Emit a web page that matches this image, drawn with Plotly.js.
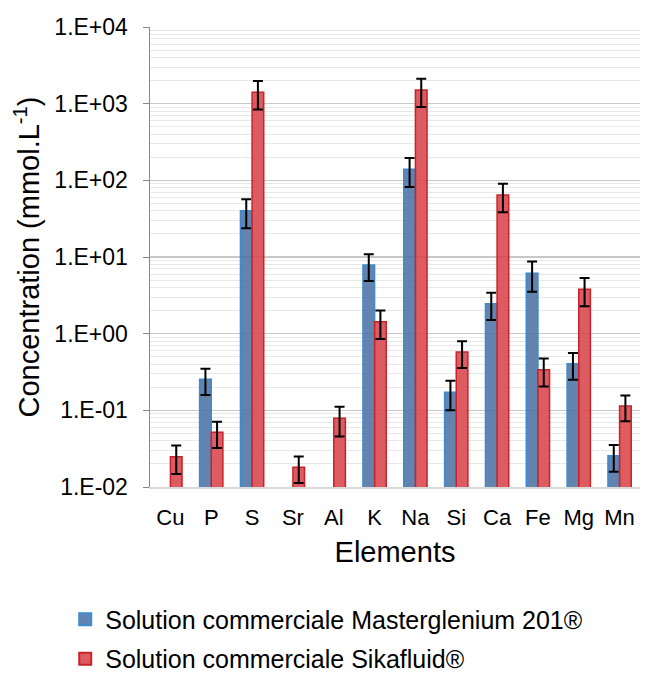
<!DOCTYPE html>
<html><head><meta charset="utf-8">
<script src="https://cdn.plot.ly/plotly-3.0.1.min.js"></script>
<style>html,body{margin:0;padding:0;background:#fff;}#chart{width:646px;height:673px;}</style>
</head><body><div id="chart"></div>
<script>
const elements = ["Cu","P","S","Sr","Al","K","Na","Si","Ca","Fe","Mg","Mn"];
const masterValues = [null,0.254,40.2,null,null,7.87,139,0.172,2.46,6.13,0.406,0.0256];
const masterErrors = [null,0.095,16.5,null,null,3.0,57,0.072,0.95,2.6,0.155,0.0098];
const sikaValues = [0.0248,0.0517,1407,0.0181,0.0787,1.43,1507,0.577,64.4,0.339,3.79,0.114];
const sikaErrors = [0.0100,0.0195,570,0.0068,0.033,0.58,605,0.22,26,0.135,1.52,0.042];
const yTickVals = [0.01,0.1,1,10,100,1000,10000];
const yTickText = ["1.E-02","1.E-01","1.E+00","1.E+01","1.E+02","1.E+03","1.E+04"];
const seriesNames = ["Solution commerciale Masterglenium 201®","Solution commerciale Sikafluid®"];

const errStyle = {type:'data', visible:true, color:'#000', thickness:2, width:5};
const traces = [
  {type:'bar', name:seriesNames[0], legendgroup:'a', x:elements, y:masterValues,
   marker:{color:'rgba(70,110,160,0.85)', line:{color:'#3C8AD0', width:1.5}},
   error_y:Object.assign({array:masterErrors}, errStyle)},
  {type:'bar', name:seriesNames[1], legendgroup:'b', x:elements, y:sikaValues,
   marker:{color:'rgba(215,70,75,0.88)', line:{color:'#C8232C', width:1.5}},
   error_y:Object.assign({array:sikaErrors}, errStyle)}
];
const layout = {
  width:646, height:673,
  margin:{l:150, r:6, t:27, b:186, autoexpand:false},
  paper_bgcolor:'#fff', plot_bgcolor:'#fff',
  font:{family:'Liberation Sans, Arial, sans-serif', size:22, color:'#000'},
  barmode:'group', bargap:0.43, bargroupgap:0,
  showlegend:true,
  legend:{orientation:'v', x:-0.173, xanchor:'left', y:-0.238, yanchor:'top',
          font:{size:25, color:'#000'}, traceorder:'grouped', tracegroupgap:4, itemsizing:'constant'},
  xaxis:{type:'category', automargin:false, showline:true, linecolor:'#d9d9d9', linewidth:1.5,
         ticks:'', tickfont:{size:22}, showgrid:false, ticklabelstandoff:10,
         title:{text:'Elements', font:{size:29}, standoff:13}},
  yaxis:{type:'log', automargin:false, range:[-2,4], tickvals:yTickVals, ticktext:yTickText,
         tickfont:{size:23}, ticks:'outside', ticklen:6, tickcolor:'#888',
         ticklabelstandoff:10,
         showline:true, linecolor:'#888', linewidth:1.5,
         showgrid:true, gridcolor:'#c8c8c8', gridwidth:1.5,
         minor:{dtick:'D1', showgrid:true, gridcolor:'#e8e8e8', gridwidth:1, ticks:''},
         zeroline:false,
         title:{text:'Concentration (mmol.L<sup>-1</sup>)', font:{size:29}, standoff:6}}
};
Plotly.newPlot('chart', traces, layout, {displayModeBar:false, staticPlot:true});
</script></body></html>
